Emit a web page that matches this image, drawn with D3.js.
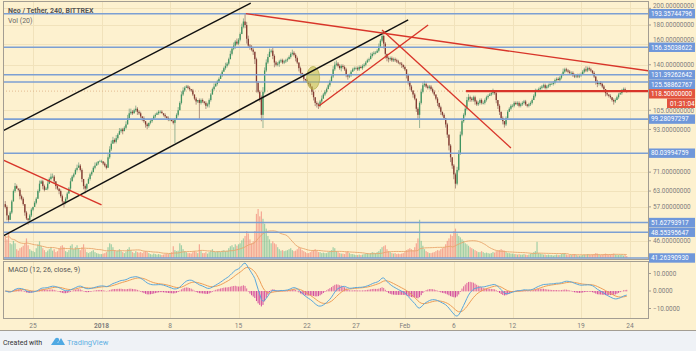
<!DOCTYPE html>
<html lang="en">
<head>
<meta charset="UTF-8">
<title>Neo / Tether, 240, BITTREX</title>
<script src="https://cdn.jsdelivr.net/npm/d3@7"></script>
<style>
  body { margin: 0; background: #eff2f6; }
  svg { display: block; font-family: Roboto, "Noto Sans", sans-serif; }
</style>
</head>
<body>
<svg id="chart" width="696" height="351"></svg>
<script>
// ---- data: 4h candles, one row per day (Dec 22 2017 .. Feb 23 2018) ----
const dayCloses = [
  [57,54,52.5,55,59],
  [63,65,64,63.5,61,60],
  [58,55,53,52.5,54,56],
  [57,58.5,60,63,66,67],
  [65,63.5,64,66,68,69],
  [69,67,65,64,63,61],
  [59,58.5,60,62,64,67],
  [69,70,72,73,74,72],
  [68,65,64,66,68,70],
  [71,73,74,75,76,76],
  [76,75,74,73,78,82],
  [85,87,86,88,90,92],
  [93,92,94,96,100,103],
  [104,103,105,106,104,103],
  [101,100,98,96,95,97],
  [98,99,101,102,103,104],
  [104,103,102,101,100,99],
  [99,98,97,99,102,105],
  [110,116,119,121,122,121],
  [120,119,116,113,111,112],
  [110,112,111,110,108,109],
  [112,116,120,122,124,126],
  [128,131,134,137,139,141],
  [145,150,155,158,162,160],
  [164,170,178,184,180,165],
  [158,157,154,152,145,125],
  [118,113,102,118,135,142],
  [147,152,153,148,142,140],
  [141,143,144,142,143,144],
  [145,147,150,151,149,146],
  [142,137,133,131,128,127],
  [126,124,122,118,114,110],
  [109,108,111,113,116,118],
  [120,123,126,130,136,140],
  [141,139,137,139,138,136],
  [132,130,131,134,136,137],
  [137,136,138,137,139,140],
  [142,144,145,148,150,151],
  [151,153,157,163,168,160],
  [150,146,145,146,144,145],
  [144,143,142,141,140,138],
  [136,131,126,122,119,116],
  [113,106,102,110,118,123],
  [124,122,121,122,120,118],
  [116,113,110,107,104,102],
  [100,96,90,84,78,74],
  [70,66,72,80,90,98],
  [102,106,112,114,113,112],
  [114,111,109,110,112,110],
  [110,112,114,115,116,117],
  [118,117,112,108,104,100],
  [98,96,100,104,106,108],
  [108,110,109,110,108,109],
  [110,111,109,108,109,110],
  [112,115,118,119,120,121],
  [122,123,121,122,123,124],
  [124,125,127,128,127,129],
  [131,134,136,135,134,133],
  [133,131,130,131,130,131],
  [132,134,136,135,137,136],
  [135,133,130,126,124,125],
  [124,122,120,117,116,115],
  [114,112,111,112,114,116],
  [117,119,120,119,118.5]
];
const firstOpen = 58;

// upper / lower wick size per candle, in percent (base-36 digit)
const dayWickUp = [
  "21011","121011","101011","011121","111212","210101","101112","111221",
  "101011","112101","101122","221212","111223","211211","101010","111111",
  "110101","101112","122111","101010","111011","111211","111121","121212",
  "112252","211101","112322","221211","111111","111211","101010","101010",
  "111211","111122","211111","101111","111111","111211","112131","101111",
  "111010","101010","101122","211111","101010","101010","112222","122211",
  "111111","111111","211010","101111","111111","111011","112111","111111",
  "111111","121111","111011","111211","101010","111010","101111","11110"
];
const dayWickDn = [
  "13201","010121","121321","101010","210101","112121","231101","010101",
  "223101","101010","111101","101110","120101","110121","121221","110101",
  "101111","101c01","011101","111121","a11121","210101","101011","101121",
  "110123","121236","124811","101231","121111","101112","122121","111222",
  "221101","101011","111211","221101","111011","101011","101013","322111",
  "111121","122212","123811","111111","112121","122332","331111","111121",
  "121111","111101","112221","221101","110111","111111","101011","111111",
  "011101","101111","111111","101111","111221","111211","112101","01111"
];

const dayVolumes = [
  [45,38,52,30,28],[35,30,18,15,20,22],[25,30,40,26,18,15],[14,12,20,28,34,25],
  [20,16,12,15,18,22],[15,18,12,14,20,24],[26,22,14,12,16,25],[28,18,22,26,20,16],
  [22,28,18,12,10,12],[14,16,12,10,9,8],[8,9,10,12,22,30],[28,22,16,14,15,18],
  [14,12,10,13,18,22],[16,12,10,14,12,11],[12,10,13,14,12,10],[8,7,9,8,7,8],
  [7,6,7,8,9,8],[10,12,24,16,14,15],[30,26,18,14,12,10],[10,9,12,14,12,10],
  [28,14,10,10,12,9],[12,15,18,14,12,14],[14,12,15,16,14,15],[20,24,26,22,28,25],
  [28,30,36,40,45,55],[50,38,30,34,55,90],[100,85,95,80,70,60],[45,38,30,34,30,28],
  [22,18,15,16,14,15],[16,18,20,16,14,15],[18,22,20,16,14,12],[10,10,12,14,16,18],
  [15,12,12,10,11,10],[10,12,14,16,22,20],[14,12,10,9,9,8],[12,14,10,8,8,7],
  [6,6,7,6,7,8],[9,10,8,10,12,11],[10,12,14,18,22,24],[26,18,14,12,10,9],
  [10,8,9,8,9,10],[12,16,18,20,18,16],[22,30,40,78,35,25],[18,14,12,10,10,11],
  [12,14,16,15,18,20],[22,28,35,40,48,45],[55,60,50,45,42,38],[35,30,28,25,22,20],
  [18,16,14,12,12,14],[12,10,11,10,9,10],[12,11,14,15,16,18],[16,15,12,10,10,9],
  [9,8,8,7,8,7],[7,8,7,6,7,9],[10,12,14,33,10,9],[8,7,7,6,7,6],
  [6,5,6,7,6,6],[8,9,10,7,6,6],[6,7,8,6,5,5],[5,6,7,6,8,7],
  [6,7,8,10,9,7],[6,7,8,9,8,7],[7,8,9,7,6,6],[6,7,5,6,4]
];

// horizontal levels drawn on the chart
const blueLevels = [193.35744796, 156.35038622, 131.39262642, 125.58862767,
  99.28097297, 80.03994759, 51.62793917, 48.55395647, 41.26390930];
const lastPrice = 118.5;
const countdown = "01:31:04";
const priceTicks = [200, 180, 160, 140, 105, 93, 71, 63, 57, 46];
const macdTicks = [10, 0, -10];

// time axis
const timeTicks = [[2017,11,25],[2018,0,1],[2018,0,8],[2018,0,15],[2018,0,22],[2018,0,27],
  [2018,1,1],[2018,1,6],[2018,1,12],[2018,1,19],[2018,1,24]];
const timeLabels = ["25","2018","8","15","22","27","Feb","6","12","19","24"];

// drawn trend lines: [date, price] -> [date, price]
const blackLines = [
  [[2017,11,21,22], 92.1, [2018,0,16,6], 206.8],
  [[2017,11,21,22], 47.4, [2018,1,1,8], 185.8]
];
const redLines = [
  [[2017,11,21,22], 76.7, [2018,0,1,0], 57.7],
  [[2018,0,15,18], 193.36, [2018,1,26,20], 133.6],
  [[2018,0,23,5], 107.9, [2018,1,3,9], 180],
  [[2018,0,29,16], 174.4, [2018,1,11,20], 82.7]
];
const redLevelStart = [2018,1,7,6];
const highlight = [[2018,0,22,15], 128.8];

// ---- build candles ----
const utc = a => new Date(Date.UTC(a[0], a[1], a[2], a[3] || 0));
const candles = [];
let prev = firstOpen;
dayCloses.forEach((row, d) => {
  const h0 = d === 0 ? 4 : 0;
  row.forEach((c, j) => {
    const up = parseInt(dayWickUp[d][j] || "0", 36);
    const dn = parseInt(dayWickDn[d][j] || "0", 36);
    const o = prev;
    candles.push({
      t: new Date(Date.UTC(2017, 11, 22 + d, h0 + j * 4)),
      o, c,
      h: Math.max(o, c) * (1 + up / 100),
      l: Math.min(o, c) * (1 - dn / 100),
      v: dayVolumes[d][j] || 0
    });
    prev = c;
  });
});

// indicators
function ema(vals, n) {
  const k = 2 / (n + 1); let e = vals[0];
  return vals.map(v => (e = v * k + e * (1 - k)));
}
const closes = candles.map(d => d.c);
const e12 = ema(closes, 12), e26 = ema(closes, 26);
const macd = e12.map((v, i) => v - e26[i]);
const signal = ema(macd, 9);
const volMA = candles.map((d, i) => d3.mean(candles.slice(Math.max(0, i - 19), i + 1), c => c.v));

// ---- layout ----
const L = 3, R = 648, mainTop = 2, mainBot = 259, macdTop = 261, macdBot = 318;
const svg = d3.select("#chart");

const x = d3.scaleUtc().domain([utc([2017,11,25]), utc([2018,1,24])]).range([33, 630]);
const y = d3.scaleLog().domain([180, 41.26]).range([25, 258]);
const yVol = d3.scaleLinear().domain([0, 100]).range([258, 209]);
const yMacd = d3.scaleLinear().domain([-10, 10]).range([308.5, 273.5]);

svg.append("rect").attr("width", 696).attr("height", 331).attr("fill", "#fdf1cf");

const defs = svg.append("defs");
defs.append("clipPath").attr("id", "clipMain").append("rect")
  .attr("x", L).attr("y", mainTop).attr("width", R - L).attr("height", mainBot - mainTop);
defs.append("clipPath").attr("id", "clipMacd").append("rect")
  .attr("x", L).attr("y", macdTop).attr("width", R - L).attr("height", macdBot - macdTop);

// grid
const grid = svg.append("g").attr("stroke", "#f1e2bb").attr("stroke-width", 1);
timeTicks.forEach(t => {
  const gx = Math.round(x(utc(t))) + 0.5;
  grid.append("line").attr("x1", gx).attr("x2", gx).attr("y1", mainTop).attr("y2", mainBot);
  grid.append("line").attr("x1", gx).attr("x2", gx).attr("y1", macdTop).attr("y2", macdBot);
});
priceTicks.forEach(p => {
  const gy = Math.round(y(p)) + 0.5;
  grid.append("line").attr("x1", L).attr("x2", R).attr("y1", gy).attr("y2", gy);
});

const main = svg.append("g").attr("clip-path", "url(#clipMain)");

// volume
main.append("g").selectAll("rect").data(candles).join("rect")
  .attr("x", d => x(d.t) - 0.6).attr("width", 1.2)
  .attr("y", d => yVol(d.v)).attr("height", d => yVol(0) - yVol(d.v))
  .attr("fill", d => d.c >= d.o ? "rgba(100,185,140,0.6)" : "rgba(238,110,100,0.55)");
main.append("path").datum(candles)
  .attr("fill", "none").attr("stroke", "#e9a66c").attr("stroke-width", 0.9)
  .attr("d", d3.line().x(d => x(d.t)).y((d, i) => yVol(volMA[i])));

// last price dotted line
main.append("line").attr("x1", L).attr("x2", R)
  .attr("y1", y(lastPrice)).attr("y2", y(lastPrice))
  .attr("stroke", "#d9a67a").attr("stroke-dasharray", "1,2").attr("opacity", 0.7);

// candles
const cg = main.append("g");
cg.selectAll("line").data(candles).join("line")
  .attr("x1", d => x(d.t)).attr("x2", d => x(d.t))
  .attr("y1", d => y(d.h)).attr("y2", d => y(d.l))
  .attr("stroke", d => d.c >= d.o ? "#6f9a7c" : "#8f6a60").attr("stroke-width", 0.7);
cg.selectAll("rect").data(candles).join("rect")
  .attr("x", d => x(d.t) - 0.65).attr("width", 1.3)
  .attr("y", d => y(Math.max(d.o, d.c)))
  .attr("height", d => Math.max(0.7, y(Math.min(d.o, d.c)) - y(Math.max(d.o, d.c))))
  .attr("fill", d => d.c >= d.o ? "#3f9460" : "#843a30");

// horizontal levels
main.append("g").selectAll("line").data(blueLevels).join("line")
  .attr("x1", L).attr("x2", R).attr("y1", d => y(d)).attr("y2", d => y(d))
  .attr("stroke", "#7c9fd3").attr("stroke-width", 1.6);

// highlight ellipse
main.append("ellipse")
  .attr("cx", x(utc(highlight[0]))).attr("cy", y(highlight[1]))
  .attr("rx", 6.5).attr("ry", 11.5)
  .attr("fill", "rgba(190,185,70,0.55)").attr("stroke", "rgba(170,165,60,0.6)");

// trend lines
function drawLines(list, color, w) {
  main.append("g").selectAll("line").data(list).join("line")
    .attr("x1", d => x(utc(d[0]))).attr("y1", d => y(d[1]))
    .attr("x2", d => x(utc(d[2]))).attr("y2", d => y(d[3]))
    .attr("stroke", color).attr("stroke-width", w);
}
drawLines(blackLines, "#111", 1.4);
drawLines(redLines, "#d8352a", 1.4);
main.append("line")
  .attr("x1", x(utc(redLevelStart))).attr("x2", R)
  .attr("y1", y(lastPrice)).attr("y2", y(lastPrice))
  .attr("stroke", "#d8352a").attr("stroke-width", 2.2);

// MACD pane
const mg = svg.append("g").attr("clip-path", "url(#clipMacd)");
mg.append("g").selectAll("rect").data(candles).join("rect")
  .attr("x", d => x(d.t) - 0.5).attr("width", 1)
  .attr("y", (d, i) => Math.min(yMacd(0), yMacd(macd[i] - signal[i])))
  .attr("height", (d, i) => Math.abs(yMacd(macd[i] - signal[i]) - yMacd(0)) + 0.4)
  .attr("fill", (d, i) => macd[i] - signal[i] >= 0 ? "#e0679c" : "#d2479c");
mg.append("path").datum(candles).attr("fill", "none").attr("stroke", "#ee9d55").attr("stroke-width", 1)
  .attr("d", d3.line().x(d => x(d.t)).y((d, i) => yMacd(signal[i])));
mg.append("path").datum(candles).attr("fill", "none").attr("stroke", "#5aa7dc").attr("stroke-width", 1)
  .attr("d", d3.line().x(d => x(d.t)).y((d, i) => yMacd(macd[i])));

// pane borders
const border = svg.append("g").attr("fill", "none").attr("stroke", "#a39d92").attr("stroke-width", 1);
border.append("rect").attr("x", L + 0.5).attr("y", mainTop - 0.5).attr("width", R - L).attr("height", mainBot - mainTop + 1);
border.append("rect").attr("x", L + 0.5).attr("y", macdTop + 0.5).attr("width", R - L).attr("height", macdBot - macdTop);
border.append("line").attr("x1", 0).attr("x2", 696).attr("y1", 330.5).attr("y2", 330.5);

// level labels with simple collision avoidance
const labels = blueLevels.map(p => ({ p, red: false })).concat([{ p: lastPrice, red: true }])
  .map(d => ({ ...d, y: y(d.p) })).sort((a, b) => a.y - b.y);
for (let i = 1; i < labels.length; i++) {
  if (labels[i].y - labels[i - 1].y < 9.5) labels[i].y = labels[i - 1].y + 9.5;
}
const boxes = [];
labels.forEach(d => {
  boxes.push([d.y - 4.7, d.y + 4.7]);
  if (d.red) boxes.push([d.y + 4.8, d.y + 14.2]);
});

// price axis (tick text nudged off the level boxes)
const ax = svg.append("g").attr("font-size", 6.4).attr("fill", "#7d7d7d");
priceTicks.forEach(p => {
  const ty = y(p);
  let tyText = ty;
  boxes.forEach(b => {
    if (tyText + 2.6 > b[0] && tyText - 2.6 < b[1]) {
      tyText = ty < (b[0] + b[1]) / 2 ? b[0] - 2.8 : b[1] + 2.8;
    }
  });
  ax.append("line").attr("x1", R).attr("x2", R + 3).attr("y1", ty).attr("y2", ty).attr("stroke", "#a39d92");
  ax.append("text").attr("x", 653).attr("y", tyText + 2.3).text(d3.format(".8f")(p));
});
macdTicks.forEach(v => {
  const ty = yMacd(v);
  ax.append("line").attr("x1", R).attr("x2", R + 3).attr("y1", ty).attr("y2", ty).attr("stroke", "#a39d92");
  ax.append("text").attr("x", 653).attr("y", ty + 2.3).text(d3.format(".4f")(v));
});

const lg = svg.append("g").attr("font-size", 6.4);
labels.forEach(d => {
  lg.append("rect").attr("x", 649).attr("y", d.y - 4.7).attr("width", 46).attr("height", 9.4)
    .attr("fill", d.red ? "#e2533e" : "#6f97da");
  lg.append("text").attr("x", 651).attr("y", d.y + 2.3).attr("fill", "#fff").text(d3.format(".8f")(d.p));
  if (d.red) {
    lg.append("rect").attr("x", 667).attr("y", d.y + 4.8).attr("width", 28).attr("height", 9.4).attr("fill", "#e2533e");
    lg.append("text").attr("x", 670).attr("y", d.y + 11.8).attr("fill", "#fff").text(countdown);
  }
});

// time axis
svg.append("g").attr("font-size", 6.6).attr("fill", "#7d7d7d").attr("text-anchor", "middle")
  .selectAll("text").data(timeTicks).join("text")
  .attr("x", d => x(utc(d))).attr("y", 328)
  .attr("font-weight", (d, i) => timeLabels[i] === "2018" ? "bold" : "normal")
  .text((d, i) => timeLabels[i]);

// titles
svg.append("text").attr("x", 8).attr("y", 13).attr("font-size", 7).attr("font-weight", "bold")
  .attr("fill", "#555").text("Neo / Tether, 240, BITTREX");
svg.append("text").attr("x", 8).attr("y", 23).attr("font-size", 7).attr("fill", "#666").text("Vol (20)");
svg.append("text").attr("x", 8).attr("y", 272).attr("font-size", 7).attr("fill", "#555").text("MACD (12, 26, close, 9)");

// footer
svg.append("text").attr("x", 3).attr("y", 345).attr("font-size", 7).attr("fill", "#333").text("Created with");
svg.append("path").attr("d", "M51,345 L55,339 L58,343 L61,338 L65,345 Z").attr("fill", "#4fa9e3");
svg.append("circle").attr("cx", 57).attr("cy", 340).attr("r", 2.2).attr("fill", "#4fa9e3");
svg.append("text").attr("x", 67).attr("y", 345).attr("font-size", 7.5).attr("fill", "#5fb0e3").text("TradingView");
</script>
</body>
</html>
